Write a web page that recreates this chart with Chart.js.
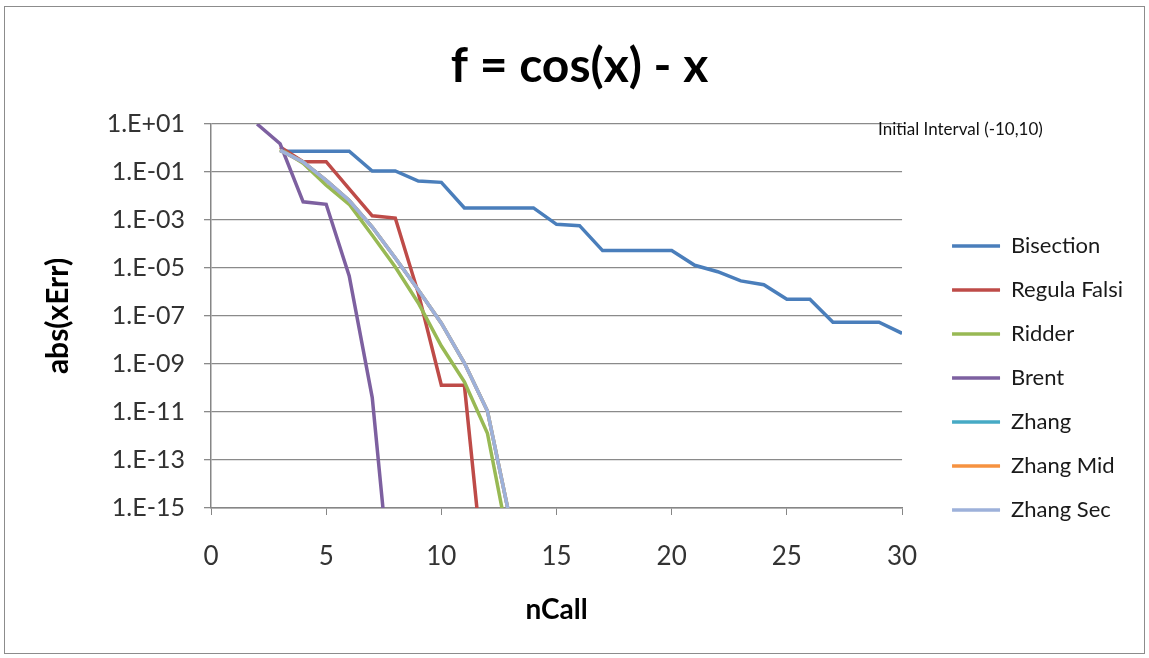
<!DOCTYPE html>
<html>
<head>
<meta charset="utf-8">
<script src="https://cdn.jsdelivr.net/npm/chart.js@4.4.1/dist/chart.umd.min.js"></script>
<style>
  html, body { margin: 0; padding: 0; background: #fff; }
  #frame { position: absolute; left: 4px; top: 6px; width: 1141px; height: 648px; border: 1px solid #8c8c8c; box-sizing: border-box; }
  #chart { position: absolute; left: 0; top: 0; }
</style>
</head>
<body>
<div id="frame"></div>
<canvas id="chart" width="1149" height="658"></canvas>
<script>
// ── cos(x) - x : convergencia de métodos de raíz ──────────────────────────

const seriesNames = ['Bisection', 'Regula Falsi', 'Ridder', 'Brent', 'Zhang', 'Zhang Mid', 'Zhang Sec'];
const seriesColors = ['#4A7EBB', '#BE4B48', '#98B954', '#7D60A0', '#46AAC5', '#F69240', '#9DB1DA'];

const nBisection   = [3, 4, 5, 6, 7, 8, 9, 10, 11, 12, 13, 14, 15, 16, 17, 18, 19, 20, 21, 22, 23, 24, 25, 26, 27, 28, 29, 30];
const errBisection = [0.74, 0.74, 0.74, 0.74, 0.11, 0.11, 0.042, 0.037, 3.2e-3, 3.2e-3, 3.2e-3, 3.2e-3, 6.6e-4, 5.8e-4,
                      5.3e-5, 5.3e-5, 5.3e-5, 5.3e-5, 1.3e-5, 7e-6, 2.9e-6, 2e-6, 5e-7, 5e-7, 5.5e-8, 5.5e-8, 5.5e-8, 1.9e-8];

const nRegula   = [3, 4, 5, 6, 7, 8, 9, 10, 11, 12];
const errRegula = [1.1, 0.27, 0.27, 0.02, 1.5e-3, 1.2e-3, 9e-7, 1.3e-10, 1.3e-10, 5e-20];

const nRidder   = [3, 4, 5, 6, 7, 8, 9, 10, 11, 12, 13];
const errRidder = [0.9, 0.23, 0.028, 4.5e-3, 2.3e-4, 1.1e-5, 3.5e-7, 5.6e-9, 1.8e-10, 1.3e-12, 1.5e-17];

const nBrent   = [2, 3, 4, 5, 6, 7, 8];
const errBrent = [10, 1.5, 5.7e-3, 4.5e-3, 4.7e-6, 4e-11, 5e-21];

const nZhang      = [3, 4, 5, 6, 7, 8, 9, 10, 11, 12, 13];
const errZhang    = [0.8, 0.26, 0.045, 6.5e-3, 5.1e-4, 2.6e-5, 1.2e-6, 5e-8, 1.1e-9, 1.1e-11, 2.8e-16];
const errZhangMid = [0.8, 0.26, 0.045, 6.5e-3, 5.1e-4, 2.6e-5, 1.2e-6, 5e-8, 1.1e-9, 1.1e-11, 2.8e-16];
const errZhangSec = [0.8, 0.26, 0.045, 6.5e-3, 5.1e-4, 2.6e-5, 1.2e-6, 5e-8, 1.1e-9, 1.1e-11, 2.8e-16];

const xTicksMax = 30;
const yTicks    = [1e1, 1e-1, 1e-3, 1e-5, 1e-7, 1e-9, 1e-11, 1e-13, 1e-15];
const noteText  = 'Initial Interval (-10,10)';

const FONT       = 'Lato, "Open Sans", sans-serif';
const AXIS_COLOR = '#868686';
const TEXT_COLOR = '#333333';

// ajustes de posición (leyenda y título)
const LEGEND_DX = 28;
const LEGEND_DY = 213;
const TITLE_DX  = 27;

const pts = (ns, errs) => ns.map((n, i) => ({ x: n, y: errs[i] }));

const seriesData = [
  pts(nBisection, errBisection),
  pts(nRegula, errRegula),
  pts(nRidder, errRidder),
  pts(nBrent, errBrent),
  pts(nZhang, errZhang),
  pts(nZhang, errZhangMid),
  pts(nZhang, errZhangSec),
];

const fmtExp = v => {
  const e = Math.round(Math.log10(v));
  return '1.E' + (e >= 0 ? '+' : '-') + String(Math.abs(e)).padStart(2, '0');
};

const layoutTweaks = {
  id: 'layoutTweaks',
  afterLayout(chart) {
    const lg = chart.legend;
    lg.left += LEGEND_DX; lg.right += LEGEND_DX;
    lg.top  += LEGEND_DY; lg.bottom += LEGEND_DY;
    const tb = chart.titleBlock;
    tb.left += TITLE_DX; tb.right += TITLE_DX;
  },
  afterDraw(chart) {
    const ctx = chart.ctx;
    ctx.save();
    ctx.font = '17px ' + FONT;
    ctx.fillStyle = '#111';
    ctx.textBaseline = 'middle';
    ctx.fillText(noteText, chart.chartArea.right - 24, chart.chartArea.top + 6);
    ctx.restore();
  }
};

new Chart(document.getElementById('chart'), {
  type: 'line',
  data: {
    datasets: seriesNames.map((name, i) => ({
      label:       name,
      data:        seriesData[i],
      borderColor: seriesColors[i],
      backgroundColor: seriesColors[i],
      borderWidth: 3.5, pointRadius: 0, tension: 0,
      fill: false, order: -i
    }))
  },
  options: {
    responsive: false,
    animation:  false,
    layout: { padding: { left: 0, top: 0, right: 44, bottom: 0 } },
    plugins: {
      title: {
        display: true, text: 'f = cos(x) - x', color: '#000',
        font: { family: FONT, size: 48, weight: 'bold' },
        padding: { top: 38, bottom: 28.4 }
      },
      legend: {
        position: 'right', align: 'start',
        labels: {
          usePointStyle: true, pointStyle: 'line', pointStyleWidth: 48,
          padding: 22, color: '#1a1a1a',
          font: { family: FONT, size: 22 },
          sort: (a, b) => a.datasetIndex - b.datasetIndex
        }
      },
      tooltip: { enabled: false }
    },
    scales: {
      x: {
        type: 'linear', min: 0, max: xTicksMax,
        ticks:  { stepSize: 5, color: TEXT_COLOR, padding: 26, font: { family: FONT, size: 26 } },
        grid:   { drawOnChartArea: false, drawTicks: true, tickLength: 7, color: AXIS_COLOR },
        border: { color: AXIS_COLOR, width: 1.5 },
        title:  { display: true, text: 'nCall', color: '#000', font: { family: FONT, size: 28, weight: 'bold' }, padding: { top: 0, bottom: 31 } },
        afterFit: s => { s.height = 150; }
      },
      y: {
        type: 'logarithmic', min: 1e-15, max: 1e1,
        afterBuildTicks: s => { s.ticks = yTicks.map(v => ({ value: v })); },
        ticks:  { color: TEXT_COLOR, padding: 19, font: { family: FONT, size: 25 }, callback: v => fmtExp(v) },
        grid:   { color: '#8a8a8a', lineWidth: 1.3, tickLength: 7 },
        border: { color: AXIS_COLOR, width: 1.5 },
        title:  { display: true, text: 'abs(xErr)', color: '#000', font: { family: FONT, size: 30, weight: 'bold' }, padding: { top: 40, bottom: 0 } },
        afterFit: s => { s.width = 211; }
      }
    }
  },
  plugins: [layoutTweaks]
});
</script>
</body>
</html>
